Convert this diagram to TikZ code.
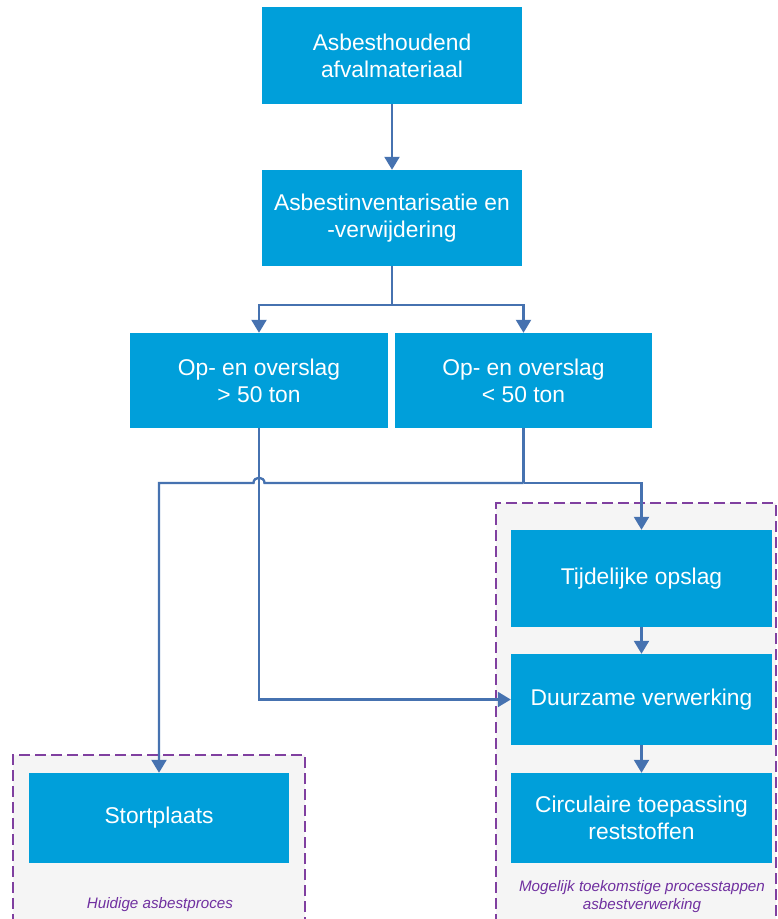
\documentclass[tikz,border=0pt]{standalone}
\usepackage{fontspec}
\setmainfont{Liberation Sans}
\usetikzlibrary{arrows.meta}
\definecolor{boxblue}{RGB}{0,159,218}
\definecolor{arrowblue}{RGB}{70,114,176}
\definecolor{dashpurple}{RGB}{128,64,160}
\definecolor{labelpurple}{RGB}{112,48,160}
\definecolor{groupbg}{RGB}{245,245,245}
\begin{document}
\begin{tikzpicture}[x=1pt,y=-1pt,
  box/.style={fill=boxblue, text=white, align=center, inner sep=0pt,
    font=\fontsize{22.8}{27}\selectfont},
  link/.style={draw=arrowblue, line width=2.3pt},
  conn/.style={link, -{Triangle[length=13pt,width=15pt]}},
  group/.style={fill=groupbg, draw=dashpurple, line width=1.2pt, dash pattern=on 11pt off 5pt},
  grouplabel/.style={text=labelpurple, align=center, font=\itshape\fontsize{15.2}{18}\selectfont, inner sep=0pt}]
\useasboundingbox (0,0) rectangle (778,919);
\fill[white] (0,0) rectangle (778,919);
% groups
\draw[group] (496,925) -- (496,503) -- (776,503) -- (776,925);
\draw[group] (13,925) -- (13,755) -- (305,755) -- (305,925);
% boxes
\node[box, minimum width=260, minimum height=97] (a) at (392,55.5) {Asbesthoudend\\afvalmateriaal};
\node[box, minimum width=260, minimum height=96] (b) at (392,218) {Asbestinventarisatie en\\-verwijdering};
\node[box, minimum width=258, minimum height=95] (c) at (259,380.5) {Op- en overslag\\> 50 ton};
\node[box, minimum width=257, minimum height=95] (d) at (523.5,380.5) {Op- en overslag\\< 50 ton};
\node[box, minimum width=261, minimum height=97] (e) at (641.5,578.5) {Tijdelijke opslag};
\node[box, minimum width=261, minimum height=91] (f) at (641.5,699.5) {Duurzame verwerking};
\node[box, minimum width=261, minimum height=90] (g) at (641.5,818) {Circulaire toepassing\\reststoffen};
\node[box, minimum width=260, minimum height=90] (h) at (159,818) {Stortplaats};
% group labels
\node[grouplabel] (lh) at (160,905) {Huidige asbestproces};
\node[grouplabel] (lm) at (642,897) {Mogelijk toekomstige processtappen\\asbestverwerking};
% connectors
\coordinate (split) at (392,305);
\coordinate (junc) at (523.5,483);
\coordinate (hopR) at (264.5,483);
\coordinate (hopL) at (253.5,483);
\coordinate (bend) at (259,699.5);
\draw[conn] (a) -- (b);
\draw[link] (b.south) -- (split);
\draw[conn] (split) -| (c.north);
\draw[conn] (split) -| (d.north);
\draw[link] (d.south) -- (junc);
\draw[conn] (junc) -| (e.north);
\draw[conn] (junc) -- (hopR) .. controls (264.5,476) and (253.5,476) .. (hopL) -| (h.north);
\draw[conn] (c.south) -- (bend) -- (f.west);
\draw[conn] (e) -- (f);
\draw[conn] (f) -- (g);
\end{tikzpicture}
\end{document}
